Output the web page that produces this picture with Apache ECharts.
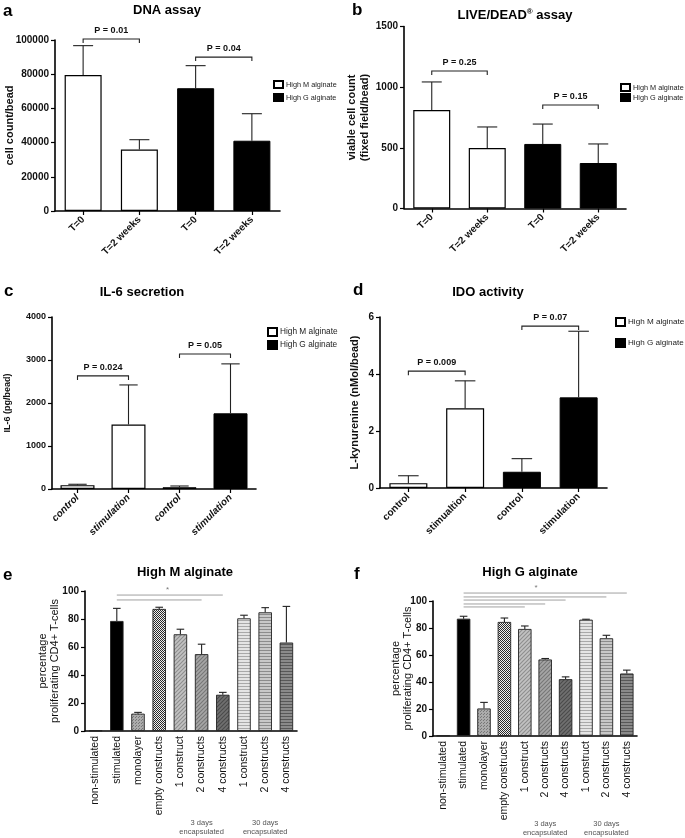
<!DOCTYPE html>
<html><head><meta charset="utf-8">
<script src="https://cdn.jsdelivr.net/npm/echarts@6/dist/echarts.min.js"></script>
<style>html,body{margin:0;padding:0;background:#fff}#c{width:685px;height:838px}</style>
</head><body><div id="c"></div>
<script>
// ---------- DATA ----------
// Panel a: DNA assay
const aCategories = ['T=0', 'T=2 weeks', 'T=0', 'T=2 weeks'];
const aGroups = ['M', 'M', 'G', 'G'];
const aMeans = [79500, 36000, 71800, 41100];
const aSD = [17200, 5700, 13200, 15800];
const aBrackets = [[0, 1, 100600], [2, 3, 90000]];
const aBracketLabels = ['P = 0.01', 'P = 0.04'];

// Panel b: LIVE/DEAD assay
const bCategories = ['T=0', 'T=2 weeks', 'T=0', 'T=2 weeks'];
const bGroups = ['M', 'M', 'G', 'G'];
const bMeans = [812, 499, 532, 375];
const bSD = [231, 173, 164, 157];
const bBrackets = [[0, 1, 1133], [2, 3, 853]];
const bBracketLabels = ['P = 0.25', 'P = 0.15'];

// Panel c: IL-6 secretion
const cCategories = ['control', 'stimulation', 'control', 'stimulation'];
const cGroups = ['M', 'M', 'G', 'G'];
const cMeans = [90, 1500, 40, 1760];
const cSD = [20, 920, 30, 1150];
const cBrackets = [[0, 1, 2630], [2, 3, 3140]];
const cBracketLabels = ['P = 0.024', 'P = 0.05'];

// Panel d: IDO activity
const dCategories = ['control', 'stimualtion', 'control', 'stimulation'];
const dGroups = ['M', 'M', 'G', 'G'];
const dMeans = [0.17, 2.80, 0.57, 3.18];
const dSD = [0.26, 0.96, 0.46, 2.32];
const dBrackets = [[0, 1, 4.1], [2, 3, 5.68]];
const dBracketLabels = ['P = 0.009', 'P = 0.07'];

// Panels e / f: proliferating CD4+ T-cells
const efCategories = ['non-stimulated', 'stimulated', 'monolayer', 'empty constructs',
  '1 construct', '2 constructs', '4 constructs', '1 construct', '2 constructs', '4 constructs'];
const eMeans = [0.3, 78.6, 12.4, 87.2, 69.1, 54.9, 25.9, 80.5, 84.8, 63.2];
const eSD = [0, 9.0, 0.9, 1.2, 3.6, 7.1, 1.7, 2.2, 3.3, 25.8];
const fMeans = [0.3, 86.9, 20.4, 84.5, 79.3, 56.7, 42.1, 86.2, 72.4, 46.3];
const fSD = [0, 1.8, 4.5, 2.9, 2.2, 0.7, 1.7, 0.3, 2.2, 2.5];
const eSigLines = [[1, 6, 97.1], [1, 5, 93.6]];
const fSigLines = [[1, 4, 95.6], [1, 5, 97.8], [1, 6, 100.7], [1, 8, 103], [1, 9, 105.9]];
const eStar = [[3, 0.4, 100.7]];
const fStar = [[4, 0.55, 110]];
const groupLabelCats = [[5, 0], [8, 0]];
const groupLabels = ['3 days\nencapsulated', '30 days\nencapsulated'];

// ---------- STYLE ----------
const FONT = '"Liberation Sans", Arial, sans-serif';
const seriesM = 'High M alginate';
const seriesG = 'High G alginate';

function pattern(kind, bg, fg) {
  if (kind === 'solid') return bg;
  const c = document.createElement('canvas');
  const ctx = c.getContext('2d');
  if (kind === 'diag') {
    c.width = c.height = 4;
    ctx.fillStyle = bg; ctx.fillRect(0, 0, 4, 4);
    ctx.strokeStyle = fg; ctx.lineWidth = 1.1;
    ctx.beginPath();
    ctx.moveTo(0, 4); ctx.lineTo(4, 0);
    ctx.moveTo(-1, 1); ctx.lineTo(1, -1);
    ctx.moveTo(3, 5); ctx.lineTo(5, 3);
    ctx.stroke();
  } else if (kind === 'horiz') {
    c.width = 2; c.height = 3;
    ctx.fillStyle = bg; ctx.fillRect(0, 0, 2, 3);
    ctx.fillStyle = fg; ctx.fillRect(0, 2, 2, 1);
  } else if (kind === 'dots') {
    c.width = c.height = 3;
    ctx.fillStyle = bg; ctx.fillRect(0, 0, 3, 3);
    ctx.fillStyle = fg; ctx.fillRect(0, 0, 1, 1); ctx.fillRect(1, 2, 1, 1);
  } else if (kind === 'checker') {
    c.width = c.height = 2;
    ctx.fillStyle = bg; ctx.fillRect(0, 0, 2, 2);
    ctx.fillStyle = fg; ctx.fillRect(0, 0, 1, 1); ctx.fillRect(1, 1, 1, 1);
  }
  return { image: c, repeat: 'repeat' };
}

const efFillStyles = [
  ['solid', '#ffffff'], ['solid', '#000000'], ['dots', '#ababab', '#777777'], ['checker', '#f0f0f0', '#2a2a2a'],
  ['diag', '#c2c2c2', '#8e8e8e'], ['diag', '#a6a6a6', '#777777'], ['diag', '#707070', '#4a4a4a'],
  ['horiz', '#e4e4e4', '#a8a8a8'], ['horiz', '#c8c8c8', '#8c8c8c'], ['horiz', '#8a8a8a', '#585858']
];

// ---------- RENDERERS ----------
function errRender(capHalf) {
  return function (params, api) {
    const x = api.value(0), m = api.value(1), t = api.value(2);
    if (!(t > m)) return null;
    const p0 = api.coord([x, m]), p1 = api.coord([x, t]);
    const st = { stroke: '#222', lineWidth: 1.1 };
    return { type: 'group', children: [
      { type: 'line', shape: { x1: p0[0], y1: p0[1], x2: p1[0], y2: p1[1] }, style: st },
      { type: 'line', shape: { x1: p1[0] - capHalf, y1: p1[1], x2: p1[0] + capHalf, y2: p1[1] }, style: st }
    ] };
  };
}
function bracketRender(labels) {
  return function (params, api) {
    const a = api.coord([api.value(0), api.value(2)]);
    const b = api.coord([api.value(1), api.value(2)]);
    return { type: 'group', children: [
      { type: 'polyline', shape: { points: [[a[0], a[1] + 4], [a[0], a[1]], [b[0], b[1]], [b[0], b[1] + 4]] },
        style: { stroke: '#222', lineWidth: 1.1, fill: 'none' } },
      { type: 'text', x: (a[0] + b[0]) / 2, y: a[1] - 4,
        style: { text: labels[params.dataIndex], font: 'bold 9px ' + FONT, fill: '#111', textAlign: 'center', textVerticalAlign: 'bottom' } }
    ] };
  };
}
function sigRender(params, api) {
  const a = api.coord([api.value(0), api.value(2)]);
  const b = api.coord([api.value(1), api.value(2)]);
  return { type: 'line', shape: { x1: a[0], y1: a[1], x2: b[0], y2: b[1] }, style: { stroke: '#a0a0a0', lineWidth: 1 } };
}
function starRender(params, api) {
  const i = api.value(0), f = api.value(1), v = api.value(2);
  const a = api.coord([i, v]), b = api.coord([i + 1, v]);
  return { type: 'text', x: a[0] + (b[0] - a[0]) * f, y: a[1],
    style: { text: '*', font: '8px ' + FONT, fill: '#777', textAlign: 'center', textVerticalAlign: 'middle' } };
}
function groupLabelRender(dy) {
  return function (params, api) {
    const p = api.coord([api.value(0), 0]);
    return { type: 'text', x: p[0], y: p[1] + dy,
      style: { text: groupLabels[params.dataIndex], font: '7.5px ' + FONT, fill: '#555', textAlign: 'center', textVerticalAlign: 'top', lineHeight: 9 } };
  };
}

// ---------- LAYOUT ----------
const grids = [
  { left: 55, top: 40, width: 225, height: 171 },
  { left: 404, top: 26.5, width: 222, height: 182 },
  { left: 52, top: 317, width: 204, height: 172 },
  { left: 380, top: 317, width: 227, height: 171 },
  { left: 85, top: 591, width: 212, height: 140 },
  { left: 433, top: 601, width: 204, height: 135 }
].map(g => Object.assign({ outerBoundsMode: 'none', containLabel: false }, g));

const axisLine = { show: true, lineStyle: { color: '#000', width: 1.6 } };

function xCat(idx, cats, labelOpt) {
  return {
    type: 'category', gridIndex: idx, data: cats,
    axisLine: axisLine,
    axisTick: { show: true, alignWithLabel: true, length: 4, lineStyle: { color: '#000', width: 1.2 } },
    axisLabel: Object.assign({ interval: 0, color: '#111', fontFamily: FONT }, labelOpt),
    splitLine: { show: false }
  };
}
function yVal(idx, min, max, interval, name, nameGap, nameStyle, labelSize) {
  return {
    type: 'value', gridIndex: idx, min: min, max: max, interval: interval,
    name: name, nameLocation: 'middle', nameGap: nameGap, nameRotate: 90, nameMoveOverlap: false,
    nameTextStyle: Object.assign({ color: '#111', fontFamily: FONT }, nameStyle),
    axisLine: axisLine,
    axisTick: { show: true, length: 4, lineStyle: { color: '#000', width: 1.2 } },
    axisLabel: { color: '#111', fontFamily: FONT, fontWeight: 'bold', fontSize: labelSize, margin: 6,
      formatter: v => String(v) },
    splitLine: { show: false }
  };
}

const xAxes = [
  xCat(0, aCategories, { rotate: 45, fontWeight: 'bold', fontSize: 10, margin: 7 }),
  xCat(1, bCategories, { rotate: 45, fontWeight: 'bold', fontSize: 10, margin: 7 }),
  xCat(2, cCategories, { rotate: 45, fontWeight: 'bold', fontStyle: 'italic', fontSize: 10, margin: 7 }),
  xCat(3, dCategories, { rotate: 45, fontWeight: 'bold', fontSize: 10, margin: 7 }),
  xCat(4, efCategories, { rotate: 90, fontSize: 10.5, margin: 5 }),
  xCat(5, efCategories, { rotate: 90, fontSize: 10.5, margin: 5 })
];
xAxes[4].axisTick.show = false;
xAxes[5].axisTick.show = false;

const yAxes = [
  yVal(0, 0, 100000, 20000, 'cell count/bead', 40, { fontWeight: 'bold', fontSize: 11 }, 10),
  yVal(1, 0, 1500, 500, 'viable cell count\n(fixed field/bead)', 33, { fontWeight: 'bold', fontSize: 11, lineHeight: 13 }, 10),
  yVal(2, 0, 4000, 1000, 'IL-6 (pg/bead)', 40, { fontWeight: 'bold', fontSize: 9 }, 9),
  yVal(3, 0, 6, 2, 'L-kynurenine (nMol/bead)', 20, { fontWeight: 'bold', fontSize: 11 }, 10),
  yVal(4, 0, 100, 20, 'percentage\nproliferating CD4+ T-cells', 24, { fontSize: 11, lineHeight: 12 }, 10),
  yVal(5, 0, 100, 20, 'percentage\nproliferating CD4+ T-cells', 19, { fontSize: 11, lineHeight: 12 }, 10)
];

// ---------- SERIES ----------
const series = [];
function pairPanel(idx, means, groups, sd, brackets, labels, barW) {
  series.push({
    type: 'bar', name: seriesM, xAxisIndex: idx, yAxisIndex: idx, barWidth: barW, barGap: '-100%',
    data: means.map((v, i) => groups[i] === 'M' ? v : '-'),
    itemStyle: { color: '#ffffff', borderColor: '#000', borderWidth: 1.2 }, silent: true
  });
  series.push({
    type: 'bar', name: seriesG, xAxisIndex: idx, yAxisIndex: idx, barWidth: barW, barGap: '-100%',
    data: means.map((v, i) => groups[i] === 'G' ? v : '-'),
    itemStyle: { color: '#000000', borderColor: '#000', borderWidth: 1 }, silent: true
  });
  series.push({
    type: 'custom', xAxisIndex: idx, yAxisIndex: idx, z: 5, silent: true,
    encode: { x: 0, y: [1, 2] },
    data: means.map((v, i) => [i, v, v + sd[i]]), renderItem: errRender(barW * 0.27)
  });
  series.push({
    type: 'custom', xAxisIndex: idx, yAxisIndex: idx, z: 5, silent: true, clip: false,
    encode: { x: [0, 1], y: 2 },
    data: brackets, renderItem: bracketRender(labels)
  });
}
pairPanel(0, aMeans, aGroups, aSD, aBrackets, aBracketLabels, 37);
pairPanel(1, bMeans, bGroups, bSD, bBrackets, bBracketLabels, 37);
pairPanel(2, cMeans, cGroups, cSD, cBrackets, cBracketLabels, 34);
pairPanel(3, dMeans, dGroups, dSD, dBrackets, dBracketLabels, 38);

function efPanel(idx, means, sd, sig, star, labelDy) {
  series.push({
    type: 'bar', xAxisIndex: idx, yAxisIndex: idx, barWidth: 13.5, silent: true,
    data: means.map((v, i) => ({ value: v, itemStyle: { color: pattern.apply(null, efFillStyles[i]) } })),
    itemStyle: { borderColor: '#222', borderWidth: 0.9 }
  });
  series.push({
    type: 'custom', xAxisIndex: idx, yAxisIndex: idx, z: 5, silent: true,
    encode: { x: 0, y: [1, 2] },
    data: means.map((v, i) => [i, v, v + sd[i]]), renderItem: errRender(3.8)
  });
  series.push({
    type: 'custom', xAxisIndex: idx, yAxisIndex: idx, z: 5, silent: true, clip: false,
    encode: { x: [0, 1], y: 2 }, data: sig, renderItem: sigRender
  });
  series.push({
    type: 'custom', xAxisIndex: idx, yAxisIndex: idx, z: 5, silent: true, clip: false,
    encode: { x: 0, y: 2 }, data: star, renderItem: starRender
  });
  series.push({
    type: 'custom', xAxisIndex: idx, yAxisIndex: idx, z: 5, silent: true, clip: false,
    encode: { x: 0, y: 1 }, data: groupLabelCats, renderItem: groupLabelRender(labelDy)
  });
}
efPanel(4, eMeans, eSD, eSigLines, eStar, 87);
efPanel(5, fMeans, fSD, fSigLines, fStar, 83);

// ---------- TEXT ----------
function txt(text, x, y, size, weight, align, extra) {
  return { type: 'text', x: x, y: y, silent: true,
    style: Object.assign({ text: text, font: weight + ' ' + size + 'px ' + FONT, fill: '#000',
      textAlign: align, textVerticalAlign: 'middle' }, extra || {}) };
}
const graphics = [
  txt('a', 3, 11, 17, 'bold', 'left'),
  txt('b', 352, 10, 17, 'bold', 'left'),
  txt('c', 4, 291, 17, 'bold', 'left'),
  txt('d', 353, 290, 17, 'bold', 'left'),
  txt('e', 3, 575, 17, 'bold', 'left'),
  txt('f', 354, 574, 17, 'bold', 'left'),
  txt('DNA assay', 167, 10, 13, 'bold', 'center'),
  txt('LIVE/DEAD{s|®} assay', 515, 15, 13, 'bold', 'center',
    { rich: { s: { font: 'bold 8px ' + FONT, fill: '#000', verticalAlign: 'top', padding: [0, 0, 6, 0] } } }),
  txt('IL-6 secretion', 142, 292, 13, 'bold', 'center'),
  txt('IDO activity', 488, 292, 13, 'bold', 'center'),
  txt('High M alginate', 185, 572, 13, 'bold', 'center'),
  txt('High G alginate', 530, 572, 13, 'bold', 'center')
];

function legendAt(left, top, itemH, gap, fs) {
  return {
    data: [seriesM, seriesG], orient: 'vertical', left: left, top: top, icon: 'rect', padding: 0,
    itemWidth: 9, itemHeight: itemH, itemGap: gap, selectedMode: false,
    textStyle: { fontSize: fs, fontFamily: FONT, color: '#222', padding: [0, 0, 0, -2] }
  };
}

const option = {
  backgroundColor: '#ffffff',
  animation: false,
  textStyle: { fontFamily: FONT },
  grid: grids,
  xAxis: xAxes,
  yAxis: yAxes,
  legend: [
    legendAt(273, 80, 7, 4, 7.3),
    legendAt(620, 83, 7, 1, 7.3),
    legendAt(267, 327, 8, 3, 8.3),
    legendAt(615, 317, 8, 11, 8.1)
  ],
  graphic: graphics,
  series: series
};

const chart = echarts.init(document.getElementById('c'), null, { renderer: 'canvas' });
chart.setOption(option);
</script>
</body></html>
